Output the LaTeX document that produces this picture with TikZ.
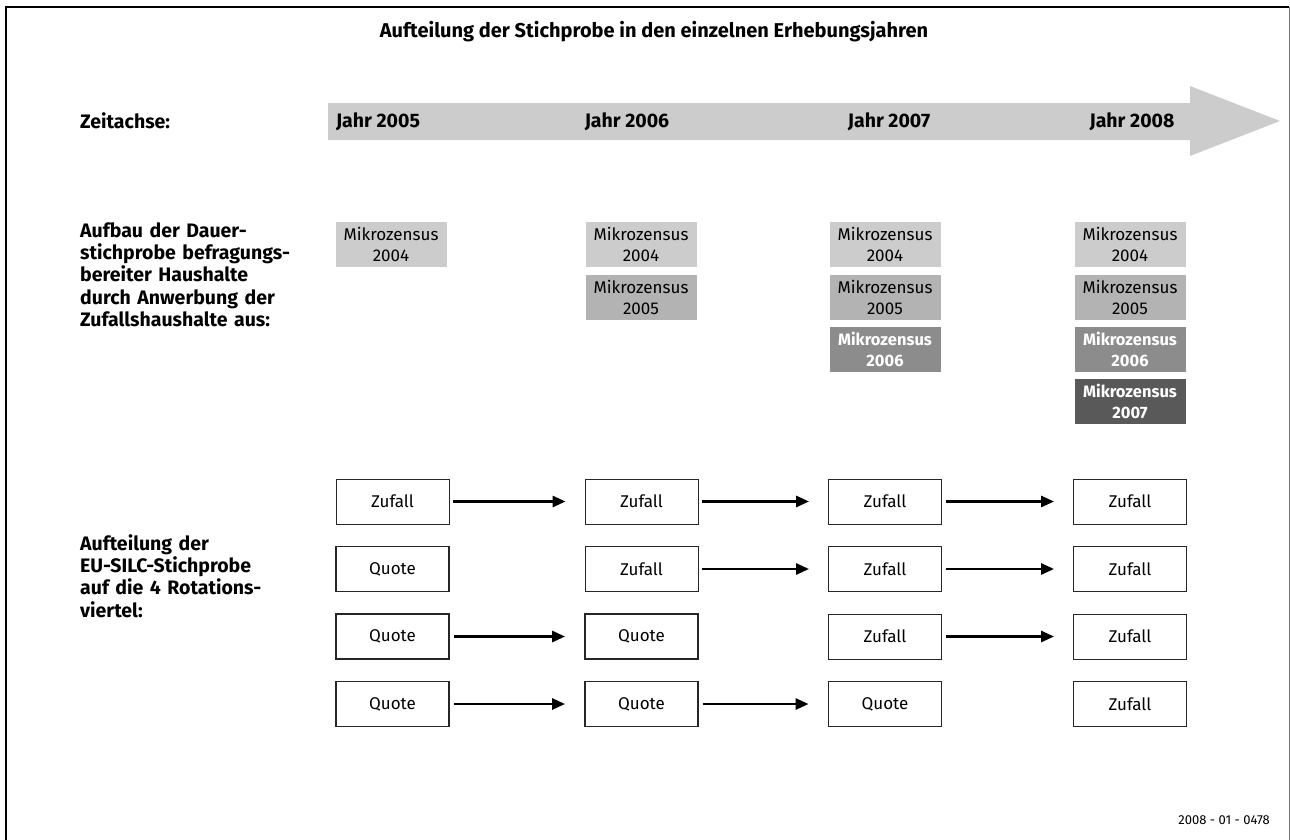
\documentclass[tikz,border=0pt]{standalone}
\usepackage{fontspec}
\setmainfont{Fira Sans}
\usetikzlibrary{arrows.meta}
\definecolor{mz4}{HTML}{CCCCCC}
\definecolor{mz5}{HTML}{B3B3B3}
\definecolor{mz6}{HTML}{8C8C8C}
\definecolor{mz7}{HTML}{595959}
\definecolor{arrowgray}{HTML}{CCCCCC}
\tikzset{
  x=1pt, y=-1pt,
  lbl/.style={font=\fontsize{19.5}{21.5}\selectfont\bfseries, align=left, anchor=north west, inner sep=0pt},
  blocklbl/.style={lbl, text width=240pt, font=\fontsize{19.5}{22.4}\selectfont\bfseries},
  yearlbl/.style={font=\fontsize{19.5}{22}\selectfont\bfseries, inner sep=0pt},
  mzbox/.style={minimum width=111pt, minimum height=45pt, inner sep=0pt, align=center, font=\fontsize{17}{21}\selectfont},
  mzdark/.style={mzbox, text=white, font=\fontsize{16.5}{21}\selectfont\bfseries},
  zbox/.style={draw=black!85, line width=0.9pt, minimum width=113pt, minimum height=45pt, inner sep=0pt, font=\fontsize{17}{20}\selectfont, fill=white},
  qbox/.style={zbox, line width=1.8pt},
  flow/.style={-{Triangle[length=13pt,width=11pt]}, line width=2.8pt, shorten <=4pt, shorten >=19pt},
}
\begin{document}
\begin{tikzpicture}
\useasboundingbox (0,0) rectangle (1290,839);
% frame
\draw[line width=2pt] (6,845) -- (6,7) -- (1289,7);
\draw[line width=1pt, black!55] (1289,7) -- (1289,845);
% title
\node[font=\fontsize{20}{22}\selectfont\bfseries, inner sep=0pt] (title) at (654,32) {Aufteilung der Stichprobe in den einzelnen Erhebungsjahren};
% time axis
\node[lbl, anchor=west] (zeit) at (80,121) {Zeitachse:};
\fill[arrowgray] (328,103) -- (1190,103) -- (1190,86) -- (1280,121) -- (1190,156) -- (1190,140) -- (328,140) -- cycle;
\node[yearlbl] (j5) at (378,122) {Jahr 2005};
\node[yearlbl] (j6) at (627,122) {Jahr 2006};
\node[yearlbl] (j7) at (889,122) {Jahr 2007};
\node[yearlbl] (j8) at (1132,122) {Jahr 2008};
% left labels
\node[blocklbl] (aufbau) at (80,222) {Aufbau der Dauer-\\stichprobe befragungs-\\bereiter Haushalte\\durch Anwerbung der\\Zufallshaushalte aus:};
\node[blocklbl] (aufteil) at (80,534) {Aufteilung der\\EU-SILC-Stichprobe\\auf die 4 Rotations-\\viertel:};
% Mikrozensus boxes
\node[mzbox, fill=mz4] (a1) at (391,244.5) {Mikrozensus\\2004};
\node[mzbox, fill=mz4] (b1) at (641,244.5) {Mikrozensus\\2004};
\node[mzbox, fill=mz5] (b2) at (641,297) {Mikrozensus\\2005};
\node[mzbox, fill=mz4] (c1) at (885,244.5) {Mikrozensus\\2004};
\node[mzbox, fill=mz5] (c2) at (885,297) {Mikrozensus\\2005};
\node[mzdark, fill=mz6] (c3) at (885,349) {Mikrozensus\\2006};
\node[mzbox, fill=mz4] (d1) at (1130,244.5) {Mikrozensus\\2004};
\node[mzbox, fill=mz5] (d2) at (1130,297) {Mikrozensus\\2005};
\node[mzdark, fill=mz6] (d3) at (1130,349) {Mikrozensus\\2006};
\node[mzdark, fill=mz7] (d4) at (1130,401) {Mikrozensus\\2007};
% rotation boxes
\node[zbox] (r1a) at (392.5,501.5) {Zufall};
\node[zbox] (r1b) at (641.5,501.5) {Zufall};
\node[zbox] (r1c) at (885,501.5) {Zufall};
\node[zbox] (r1d) at (1130,501.5) {Zufall};
\node[qbox] (r2a) at (392.5,569) {Quote};
\node[zbox] (r2b) at (641.5,569) {Zufall};
\node[zbox] (r2c) at (885,569) {Zufall};
\node[zbox] (r2d) at (1130,569) {Zufall};
\node[qbox] (r3a) at (392.5,636.5) {Quote};
\node[qbox] (r3b) at (641.5,636.5) {Quote};
\node[zbox] (r3c) at (885,636.5) {Zufall};
\node[zbox] (r3d) at (1130,636.5) {Zufall};
\node[qbox] (r4a) at (392.5,704) {Quote};
\node[qbox] (r4b) at (641.5,704) {Quote};
\node[qbox] (r4c) at (885,704) {Quote};
\node[zbox] (r4d) at (1130,704) {Zufall};
% arrows
\draw[flow] (r1a) -- (r1b);
\draw[flow] (r1b) -- (r1c);
\draw[flow] (r1c) -- (r1d);
\draw[flow] (r2b) -- (r2c);
\draw[flow] (r2c) -- (r2d);
\draw[flow] (r3a) -- (r3b);
\draw[flow] (r3c) -- (r3d);
\draw[flow] (r4a) -- (r4b);
\draw[flow] (r4b) -- (r4c);
% footer
\node[font=\fontsize{13}{15}\selectfont, anchor=east, inner sep=0pt] (code) at (1270,820) {2008 - 01 - 0478};
\end{tikzpicture}
\end{document}
